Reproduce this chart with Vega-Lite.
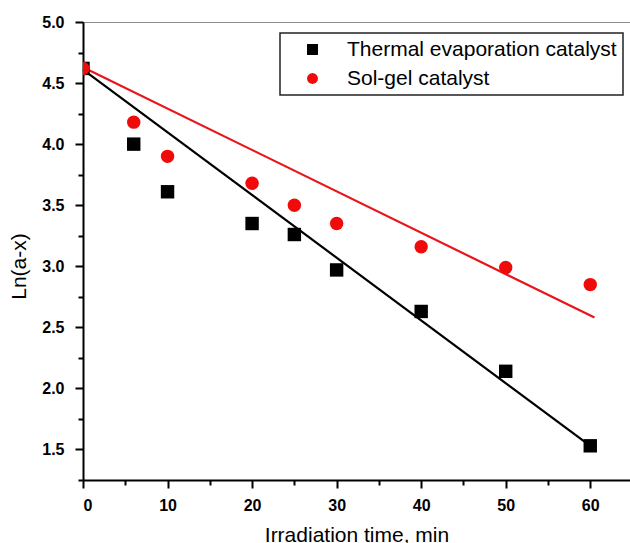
{
  "$schema": "https://vega.github.io/schema/vega-lite/v6.json",
  "width": 547,
  "height": 458,
  "autosize": "none",
  "padding": {"left": 83, "top": 22, "right": 0, "bottom": 63},
  "background": "white",
  "config": {
    "font": "Liberation Sans",
    "view": {"stroke": "#8c8c8c", "strokeWidth": 1},
    "axis": {
      "grid": false,
      "domainColor": "#000000",
      "domainWidth": 2,
      "ticks": true,
      "tickColor": "#000000",
      "tickWidth": 2,
      "labelFont": "Liberation Sans",
      "labelFontSize": 16,
      "labelFontWeight": "bold",
      "labelColor": "#000000",
      "titleFont": "Liberation Sans",
      "titleFontSize": 21,
      "titleFontWeight": "normal",
      "titleColor": "#000000"
    },
    "legend": {
      "orient": "none",
      "legendX": 197,
      "legendY": 11,
      "title": null,
      "padding": 6,
      "strokeColor": "#222222",
      "strokeWidth": 1.5,
      "fillColor": "#ffffff",
      "labelFont": "Liberation Sans",
      "labelFontSize": 21,
      "labelColor": "#000000",
      "labelLimit": 0,
      "symbolSize": 120,
      "symbolStrokeWidth": 0,
      "symbolOffset": 16,
      "labelOffset": 24,
      "rowPadding": 7
    }
  },
  "datasets": {
    "measured": [
      {"series": "Thermal evaporation catalyst", "time": 0, "lnc": 4.62},
      {"series": "Thermal evaporation catalyst", "time": 6, "lnc": 4.0},
      {"series": "Thermal evaporation catalyst", "time": 10, "lnc": 3.61},
      {"series": "Thermal evaporation catalyst", "time": 20, "lnc": 3.35},
      {"series": "Thermal evaporation catalyst", "time": 25, "lnc": 3.26},
      {"series": "Thermal evaporation catalyst", "time": 30, "lnc": 2.97},
      {"series": "Thermal evaporation catalyst", "time": 40, "lnc": 2.63},
      {"series": "Thermal evaporation catalyst", "time": 50, "lnc": 2.14},
      {"series": "Thermal evaporation catalyst", "time": 60, "lnc": 1.53},
      {"series": "Sol-gel catalyst", "time": 0, "lnc": 4.62},
      {"series": "Sol-gel catalyst", "time": 6, "lnc": 4.18},
      {"series": "Sol-gel catalyst", "time": 10, "lnc": 3.9},
      {"series": "Sol-gel catalyst", "time": 20, "lnc": 3.68},
      {"series": "Sol-gel catalyst", "time": 25, "lnc": 3.5},
      {"series": "Sol-gel catalyst", "time": 30, "lnc": 3.35},
      {"series": "Sol-gel catalyst", "time": 40, "lnc": 3.16},
      {"series": "Sol-gel catalyst", "time": 50, "lnc": 2.99},
      {"series": "Sol-gel catalyst", "time": 60, "lnc": 2.85}
    ],
    "fits": [
      {"series": "Thermal evaporation catalyst", "time": 0, "lnc": 4.61},
      {"series": "Thermal evaporation catalyst", "time": 60, "lnc": 1.53},
      {"series": "Sol-gel catalyst", "time": 0, "lnc": 4.63},
      {"series": "Sol-gel catalyst", "time": 60.5, "lnc": 2.58}
    ]
  },
  "resolve": {"axis": {"x": "independent", "y": "independent"}},
  "layer": [
    {
      "encoding": {
        "x": {
          "field": "time",
          "type": "quantitative",
          "scale": {"domain": [0, 64.7], "nice": false, "zero": false},
          "axis": {
            "orient": "bottom",
            "title": "Irradiation time, min",
            "values": [0, 10, 20, 30, 40, 50, 60],
            "tickSize": 8,
            "labelPadding": 9,
            "titleBaseline": "alphabetic",
            "titleY": 61
          }
        },
        "y": {
          "field": "lnc",
          "type": "quantitative",
          "scale": {"domain": [1.25, 5.0], "nice": false, "zero": false},
          "axis": {
            "orient": "left",
            "title": "Ln(a-x)",
            "values": [1.5, 2.0, 2.5, 3.0, 3.5, 4.0, 4.5, 5.0],
            "format": ".1f",
            "tickSize": 8,
            "labelPadding": 11,
            "titleAngle": -90,
            "titleBaseline": "alphabetic",
            "titleAlign": "center",
            "titleX": -58,
            "titleY": 244
          }
        }
      },
      "layer": [
        {
          "data": {"name": "fits"},
          "transform": [{"filter": "datum.series === 'Thermal evaporation catalyst'"}],
          "mark": {"type": "line", "color": "#000000", "strokeWidth": 2.2}
        },
        {
          "data": {"name": "fits"},
          "transform": [{"filter": "datum.series === 'Sol-gel catalyst'"}],
          "mark": {"type": "line", "color": "#e8151b", "strokeWidth": 2.2}
        },
        {
          "data": {"name": "measured"},
          "mark": {"type": "point", "filled": true, "opacity": 1, "size": 180, "clip": true},
          "encoding": {
            "color": {
              "field": "series",
              "type": "nominal",
              "scale": {"domain": ["Thermal evaporation catalyst", "Sol-gel catalyst"], "range": ["#000000", "#f00a0a"]}
            },
            "shape": {
              "field": "series",
              "type": "nominal",
              "scale": {"domain": ["Thermal evaporation catalyst", "Sol-gel catalyst"], "range": ["square", "circle"]}
            }
          }
        }
      ]
    },
    {
      "data": {"name": "measured"},
      "mark": {"type": "point", "opacity": 0, "size": 1},
      "encoding": {
        "x": {
          "field": "time",
          "type": "quantitative",
          "axis": {
            "orient": "bottom",
            "title": null,
            "domain": false,
            "labels": false,
            "values": [5, 15, 25, 35, 45, 55],
            "tickSize": 5
          }
        },
        "y": {
          "field": "lnc",
          "type": "quantitative",
          "axis": {
            "orient": "left",
            "title": null,
            "domain": false,
            "labels": false,
            "values": [1.25, 1.75, 2.25, 2.75, 3.25, 3.75, 4.25, 4.75],
            "tickSize": 5
          }
        }
      }
    }
  ]
}
